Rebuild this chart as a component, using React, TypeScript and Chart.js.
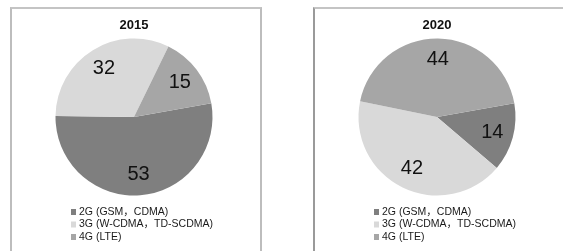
import React, { useEffect, useRef } from "react";
import { Chart, registerables } from "chart.js";

Chart.register(...registerables);

const categories = ["2G (GSM，CDMA)", "3G (W-CDMA，TD-SCDMA)", "4G (LTE)"];
const titles = ["2015", "2020"];
const values2015 = [53, 32, 15];
const values2020 = [14, 42, 44];
const colors = ["#7f7f7f", "#d9d9d9", "#a6a6a6"];

const FONT = "'Liberation Sans', Arial, 'Noto Sans CJK SC', sans-serif";

const labelPlugin = {
  id: "sliceLabels",
  afterDatasetsDraw(chart: any) {
    const ctx = chart.ctx;
    const meta = chart.getDatasetMeta(0);
    const data = chart.data.datasets[0].data;
    ctx.save();
    ctx.font = `20px ${FONT}`;
    ctx.fillStyle = "#111111";
    ctx.textAlign = "center";
    ctx.textBaseline = "middle";
    meta.data.forEach((arc: any, i: number) => {
      const p = arc.getProps(["x", "y", "startAngle", "endAngle", "outerRadius"], true);
      const mid = (p.startAngle + p.endAngle) / 2;
      const r = p.outerRadius * 0.73;
      ctx.fillText(String(data[i]), p.x + Math.cos(mid) * r, p.y + Math.sin(mid) * r);
    });
    ctx.restore();
  },
};

const legendPlugin = {
  id: "listLegend",
  afterDraw(chart: any) {
    const ctx = chart.ctx;
    const meta = chart.getDatasetMeta(0);
    const arc = meta.data[0];
    if (!arc) return;
    const cx = arc.x;
    const bottom = chart.chartArea.bottom;
    const labels = chart.data.labels;
    const bg = chart.data.datasets[0].backgroundColor;
    ctx.save();
    ctx.font = `10.5px ${FONT}`;
    ctx.textBaseline = "middle";
    ctx.textAlign = "left";
    labels.forEach((lab: string, i: number) => {
      const y = bottom + 16.5 + i * 12.5;
      ctx.fillStyle = bg[i];
      ctx.fillRect(cx - 63, y - 3, 5, 6);
      ctx.fillStyle = "#1a1a1a";
      ctx.fillText(lab, cx - 55, y);
    });
    ctx.restore();
  },
};

function PieChart({ title, values }: { title: string; values: number[] }) {
  const ref = useRef<HTMLCanvasElement>(null);
  useEffect(() => {
    if (!ref.current) return;
    const chart = new Chart(ref.current, {
      type: "pie",
      data: {
        labels: categories,
        datasets: [
          {
            data: values,
            backgroundColor: colors,
            borderWidth: 0,
          },
        ],
      },
      options: {
        responsive: false,
        animation: false,
        rotation: 80,
        layout: { padding: { top: 3, left: 40, right: 44, bottom: 55.5 } },
        plugins: {
          legend: { display: false },
          tooltip: { enabled: false },
          title: {
            display: true,
            text: title,
            color: "#111111",
            font: { family: FONT, size: 13, weight: "bold" },
            padding: { top: 5.2, bottom: 5.7 },
          },
        },
      },
      plugins: [labelPlugin, legendPlugin],
    });
    return () => chart.destroy();
  }, [title, values]);
  return <canvas ref={ref} width={248} height={242} style={{ width: 248, height: 242, display: "block" }} />;
}

export default function App() {
  return (
    <div
      style={{
        position: "fixed",
        left: 0,
        top: 0,
        width: 563,
        height: 251,
        overflow: "hidden",
        background: "#ffffff",
      }}
    >
      <div
        style={{
          position: "absolute",
          left: 10,
          top: 7,
          width: 248,
          height: 270,
          borderTop: "2px solid #c4c4c4",
          borderLeft: "2px solid #bdbdbd",
          borderRight: "2px solid #bdbdbd",
        }}
      />
      <div
        style={{
          position: "absolute",
          left: 313,
          top: 7,
          width: 270,
          height: 270,
          borderTop: "2px solid #c4c4c4",
          borderLeft: "2px solid #9a9a9a",
        }}
      />
      <div style={{ position: "absolute", left: 12, top: 9 }}>
        <PieChart title={titles[0]} values={values2015} />
      </div>
      <div style={{ position: "absolute", left: 315, top: 9 }}>
        <PieChart title={titles[1]} values={values2020} />
      </div>
    </div>
  );
}
